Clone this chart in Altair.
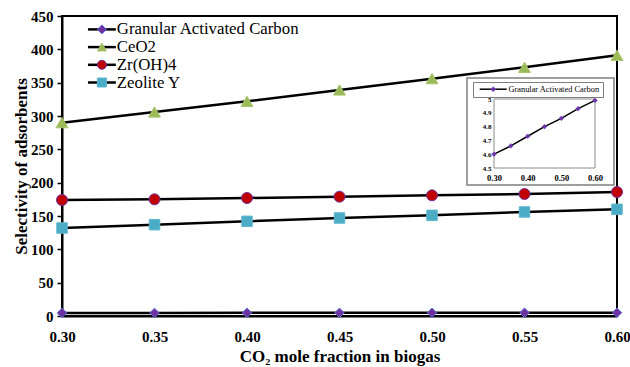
import altair as alt
import pandas as pd

# CO2 mole fraction (x) and adsorbent selectivity for each material
co2_fraction = [0.30, 0.35, 0.40, 0.45, 0.50, 0.55, 0.60]
adsorbents = ["Granular Activated Carbon", "CeO2", "Zr(OH)4", "Zeolite Y"]
gac_selectivity = [4.60, 4.66, 4.73, 4.80, 4.86, 4.93, 4.99]
ceo2_selectivity = [290, 306, 322, 339, 356, 373, 391]
zroh4_selectivity = [174, 175, 177, 179, 181, 183, 186]
zeolite_selectivity = [132, 137, 142, 147, 151, 156, 160]

x_ticks = [0.30, 0.35, 0.40, 0.45, 0.50, 0.55, 0.60]
y_ticks = [0, 50, 100, 150, 200, 250, 300, 350, 400, 450]
inset_x_ticks = [0.30, 0.40, 0.50, 0.60]
inset_y_ticks = [4.5, 4.6, 4.7, 4.8, 4.9, 5.0]

# inset panel extent, in the inset's own data units
inset_box_x = [0.2198, 0.6564]
inset_box_y = [4.377, 5.152]

marker_fill = ["#7030A0", "#9BBB59", "#C00000", "#4BACC6"]
marker_edge = ["#5A6ED8", "#A6C46A", "#7030A0", "#5DB6CE"]
marker_shape = ["diamond", "triangle-up", "circle", "square"]
marker_size = [90, 140, 121, 110]

FONT = "Liberation Serif"

rows = []
for name, vals in zip(adsorbents, [gac_selectivity, ceo2_selectivity,
                                   zroh4_selectivity, zeolite_selectivity]):
    for x, v in zip(co2_fraction, vals):
        rows.append({"x": x, "value": v, "Adsorbent": name})
df = pd.DataFrame(rows)

inset_df = pd.DataFrame({
    "x": co2_fraction,
    "value": gac_selectivity,
    "InsetCurve": adsorbents[0],
    "InsetMarker": "gac",
})
inset_box_df = pd.DataFrame({"x0": [inset_box_x[0]], "x1": [inset_box_x[1]],
                             "y0": [inset_box_y[0]], "y1": [inset_box_y[1]]})
inset_frame_df = pd.DataFrame({"x0": [0.30], "x1": [0.60], "y0": [4.5], "y1": [5.0]})

# ---------------- main panel ----------------
x_main = alt.X(
    "x:Q",
    scale=alt.Scale(domain=[0.30, 0.60], nice=False, zero=False),
    axis=alt.Axis(
        values=x_ticks, format=".2f", title="CO₂ mole fraction in biogas",
        titleFont=FONT, titleFontSize=17, titleFontWeight="bold", titleColor="black",
        titlePadding=4, labelFont=FONT, labelFontSize=15, labelFontWeight="bold",
        labelColor="black", labelPadding=13, labelFlush=False, labelOverlap=False,
        domainColor="black", domainWidth=2, tickColor="black", tickSize=0, grid=False,
    ),
)
y_main = alt.Y(
    "value:Q",
    scale=alt.Scale(domain=[0, 450], nice=False, zero=True),
    axis=alt.Axis(
        values=y_ticks, title="Selectivity of adsorbents",
        titleFont=FONT, titleFontSize=17, titleFontWeight="bold", titleColor="black",
        titlePadding=0, labelFont=FONT, labelFontSize=15, labelFontWeight="bold",
        labelColor="black", labelPadding=4, labelFlush=False, labelOverlap=False,
        domainColor="black", domainWidth=2,
        tickColor="black", tickWidth=1.5, tickSize=5, grid=False,
    ),
)

# legend block: one row per adsorbent (line key + marker key share a row)
LEG_X, LEG_Y, LEG_ROW = 22, 5, 17.7
LEG_FONT = 16.8
legend_common = dict(
    title=None, orient="none", legendX=LEG_X, padding=0, symbolSize=81,
    symbolOffset=9.5, labelOffset=6.5, labelFont=FONT, labelFontSize=LEG_FONT,
    labelLimit=0,
)

main_layers = []
for i, name in enumerate(adsorbents):
    series = alt.Chart(df).transform_filter(alt.datum.Adsorbent == name)
    row_y = LEG_Y + i * LEG_ROW
    line = series.mark_line(strokeWidth=2.5).encode(
        x=x_main,
        y=y_main,
        color=alt.Color(
            "Adsorbent:N",
            scale=alt.Scale(domain=[name], range=["black"]),
            legend=alt.Legend(
                legendY=row_y, symbolType="M-3.1,0L3.1,0", symbolStrokeWidth=2.5,
                labelColor="black", **legend_common,
            ),
        ),
    )
    main_layers.append(line)

for i, name in enumerate(adsorbents):
    series = alt.Chart(df).transform_filter(alt.datum.Adsorbent == name)
    row_y = LEG_Y + i * LEG_ROW
    points = series.mark_point(
        filled=True, opacity=1, shape=marker_shape[i], size=marker_size[i],
        stroke=marker_edge[i], strokeWidth=1,
    ).encode(
        x=x_main,
        y=y_main,
        fill=alt.Fill(
            "Adsorbent:N",
            scale=alt.Scale(domain=[name], range=[marker_fill[i]]),
            legend=alt.Legend(
                legendY=row_y, symbolType=marker_shape[i], symbolStrokeWidth=1,
                symbolStrokeColor=marker_edge[i], symbolOpacity=1,
                labelExpr="' '", labelOpacity=0, **legend_common,
            ),
        ),
    )
    main_layers.append(points)

main = alt.layer(*main_layers).resolve_scale(color="independent", fill="independent")

# ---------------- inset panel (Granular Activated Carbon close-up) ----------------
inset_x_scale = alt.Scale(domain=[0.30, 0.60], range=[432, 533], nice=False, zero=False)
inset_y_scale = alt.Scale(domain=[4.5, 5.0], range=[152, 83], nice=False, zero=False)
inset_x_axis = alt.Axis(
    orient="bottom", offset=-148, values=inset_x_ticks, format=".2f", title=None,
    labelFont=FONT, labelFontSize=8.5, labelFontWeight="bold", labelColor="black",
    labelPadding=5, labelFlush=False, labelOverlap=False,
    domain=False, ticks=False, grid=False, zindex=2,
)
inset_y_axis = alt.Axis(
    orient="left", offset=-432, values=inset_y_ticks, format=".1~f", title=None,
    labelFont=FONT, labelFontSize=7, labelFontWeight="bold", labelColor="black",
    labelPadding=3, labelFlush=False, labelOverlap=False,
    domain=False, ticks=False, grid=False, zindex=2,
)

inset_box = alt.Chart(inset_box_df).mark_rect(
    fill="white", stroke="#7F7F7F", strokeWidth=1.5
).encode(
    x=alt.X("x0:Q", scale=inset_x_scale, axis=inset_x_axis),
    x2="x1:Q",
    y=alt.Y("y0:Q", scale=inset_y_scale, axis=inset_y_axis),
    y2="y1:Q",
)

inset_frame = alt.Chart(inset_frame_df).mark_rect(
    fillOpacity=0, stroke="#8C8C8C", strokeWidth=1
).encode(
    x=alt.X("x0:Q", scale=inset_x_scale, axis=inset_x_axis),
    x2="x1:Q",
    y=alt.Y("y0:Q", scale=inset_y_scale, axis=inset_y_axis),
    y2="y1:Q",
)

inset_line = alt.Chart(inset_df).mark_line(strokeWidth=1.5).encode(
    x=alt.X("x:Q", scale=inset_x_scale, axis=inset_x_axis),
    y=alt.Y("value:Q", scale=inset_y_scale, axis=inset_y_axis),
    color=alt.Color(
        "InsetCurve:N",
        scale=alt.Scale(range=["black"]),
        legend=alt.Legend(
            title=None, orient="none", legendX=411, legendY=66, padding=3,
            strokeColor="#7F7F7F", symbolType="M-5.4,0L5.4,0", symbolSize=25,
            symbolStrokeWidth=1.5, symbolOffset=13, labelOffset=11,
            labelFont=FONT, labelFontSize=8.4, labelColor="black", labelLimit=0,
        ),
    ),
)

inset_points = alt.Chart(inset_df).mark_point(
    filled=True, opacity=1, shape="diamond", size=22, stroke="#6A4FD0", strokeWidth=0.6
).encode(
    x=alt.X("x:Q", scale=inset_x_scale, axis=inset_x_axis),
    y=alt.Y("value:Q", scale=inset_y_scale, axis=inset_y_axis),
    fill=alt.Fill(
        "InsetMarker:N",
        scale=alt.Scale(range=["#7030A0"]),
        legend=alt.Legend(
            title=None, orient="none", legendX=411, legendY=66, padding=3,
            symbolType="diamond", symbolSize=25, symbolStrokeColor="#6A4FD0",
            symbolStrokeWidth=0.6, symbolOffset=13, labelOffset=11,
            labelFont=FONT, labelFontSize=8.4, labelExpr="' '", labelOpacity=0,
        ),
    ),
)

inset = alt.layer(inset_box, inset_frame, inset_line, inset_points)

chart = (
    alt.layer(main, inset)
    .resolve_scale(x="independent", y="independent", color="independent",
                   fill="independent")
    .properties(
        width=555, height=300,
        autosize=alt.AutoSizeParams(type="none"),
        padding={"left": 62, "top": 16, "right": 13, "bottom": 51},
        background="white",
    )
    .configure_view(stroke="black", strokeWidth=2)
)

chart.save("out.html", embed_options={"renderer": "svg", "actions": False})
